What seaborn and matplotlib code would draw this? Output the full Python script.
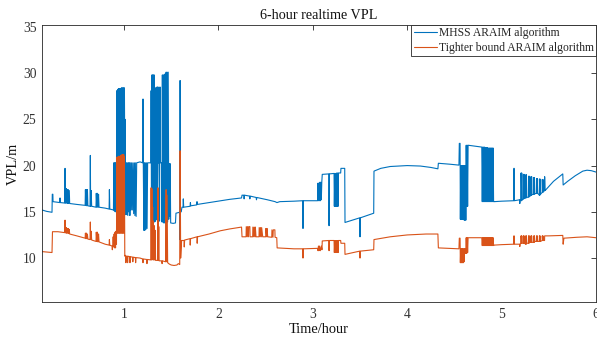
import matplotlib
matplotlib.use("Agg")
import matplotlib.pyplot as plt
import seaborn as sns
import pandas as pd

# ---------------- chart data ----------------
series_names = ["MHSS ARAIM algorithm", "Tighter bound ARAIM algorithm"]
series_colors = ["#0072BD", "#D95319"]
title_text = "6-hour realtime VPL"
x_label = "Time/hour"
y_label = "VPL/m"
x_ticks = [1, 2, 3, 4, 5, 6]
y_ticks = [10, 15, 20, 25, 30, 35]

# (time in hours, VPL in metres) samples
mhss_samples = [
    (0.131, 15.2), (0.180, 15.05), (0.237, 14.95), (0.240, 16.9), (0.246, 16.9), (0.248, 16.1),
    (0.320, 16.0), (0.322, 16.5), (0.325, 16.0),
    (0.372, 15.95), (0.375, 19.7), (0.378, 15.95), (0.382, 17.5), (0.386, 15.95), (0.390, 17.5),
    (0.394, 15.95), (0.398, 17.4), (0.403, 15.9), (0.408, 17.4), (0.412, 15.9), (0.420, 17.3), (0.424, 15.9),
    (0.500, 15.8),
    (0.588, 15.7), (0.591, 17.4), (0.596, 15.7), (0.601, 17.4), (0.606, 15.65), (0.612, 17.4), (0.617, 15.65),
    (0.640, 15.6), (0.643, 21.1), (0.646, 15.6), (0.652, 17.3), (0.657, 15.6),
    (0.703, 15.5), (0.706, 17.0), (0.712, 15.5), (0.718, 17.0), (0.724, 15.5), (0.730, 16.9), (0.735, 15.5),
    (0.800, 15.4), (0.842, 15.3), (0.845, 17.4), (0.849, 15.3), (0.888, 15.2),
    (0.892, 20.3), (0.897, 15.1), (0.902, 20.3), (0.907, 15.0), (0.912, 20.3), (0.918, 15.0),
    (0.924, 28.1), (0.928, 15.0), (0.932, 28.2), (0.936, 15.0), (0.940, 28.3), (0.944, 14.9),
    (0.948, 28.3), (0.952, 14.9), (0.956, 28.3), (0.960, 14.9), (0.964, 28.3), (0.968, 14.9),
    (0.972, 28.4), (0.976, 14.9), (0.980, 28.4), (0.984, 14.8), (0.988, 28.4), (0.992, 14.8),
    (0.996, 28.4), (1.000, 14.8), (1.004, 28.4), (1.008, 20.3),
    (1.011, 25.0), (1.014, 20.3), (1.018, 14.7), (1.022, 20.3), (1.028, 14.7), (1.033, 20.3),
    (1.040, 14.6), (1.045, 20.3), (1.050, 15.0), (1.056, 20.3), (1.062, 14.6), (1.067, 20.3),
    (1.075, 15.2), (1.080, 20.3), (1.088, 15.2), (1.094, 20.3), (1.102, 14.8), (1.108, 20.3),
    (1.115, 14.6), (1.120, 20.3), (1.128, 14.5), (1.134, 20.3),
    (1.170, 20.4), (1.198, 20.3), (1.201, 27.2), (1.204, 20.3),
    (1.210, 13.0), (1.215, 20.3), (1.220, 13.0), (1.226, 20.3), (1.232, 13.1), (1.238, 20.3),
    (1.244, 13.2), (1.250, 20.3),
    (1.284, 20.3), (1.287, 28.1), (1.291, 14.0), (1.295, 29.8), (1.299, 13.8), (1.303, 29.8),
    (1.307, 14.0), (1.311, 29.8), (1.315, 14.1), (1.320, 29.8), (1.324, 13.9), (1.330, 28.4),
    (1.334, 14.0), (1.340, 28.4), (1.344, 14.2), (1.350, 28.5), (1.354, 14.3), (1.360, 28.5),
    (1.364, 20.3), (1.372, 20.3), (1.376, 14.0), (1.381, 28.5), (1.385, 20.3),
    (1.398, 20.3), (1.402, 13.9), (1.406, 29.8), (1.410, 13.9), (1.416, 29.8), (1.420, 13.8),
    (1.426, 29.8), (1.430, 13.8), (1.434, 29.9), (1.440, 13.8), (1.446, 30.1), (1.450, 13.8),
    (1.456, 30.1), (1.462, 13.9), (1.468, 30.1), (1.474, 14.2), (1.478, 20.2),
    (1.484, 14.5), (1.489, 20.2), (1.494, 13.8),
    (1.520, 13.75), (1.545, 13.8), (1.550, 14.85), (1.588, 14.95), (1.591, 12.0), (1.594, 29.2),
    (1.598, 15.0), (1.606, 15.0),
    (1.614, 15.5), (1.625, 15.5), (1.628, 16.4), (1.632, 15.5), (1.700, 15.6), (1.703, 16.0),
    (1.707, 15.65), (1.770, 15.75), (1.773, 16.1), (1.777, 15.8), (1.900, 16.0), (2.020, 16.2),
    (2.120, 16.35), (2.245, 16.5), (2.250, 16.8), (2.270, 16.8), (2.272, 16.4), (2.276, 16.8),
    (2.330, 16.7), (2.333, 16.4), (2.337, 16.7), (2.400, 16.55), (2.403, 16.3), (2.407, 16.55),
    (2.520, 16.3), (2.600, 16.1), (2.620, 16.0), (2.650, 16.1), (2.800, 16.15), (2.893, 16.2),
    (2.896, 13.2), (2.900, 16.2), (3.050, 16.2),
    (3.055, 18.1), (3.060, 16.2), (3.065, 18.1), (3.070, 16.2), (3.075, 18.2), (3.080, 16.2),
    (3.085, 18.2), (3.090, 16.3), (3.095, 18.2), (3.100, 19.05),
    (3.170, 19.1), (3.172, 13.5), (3.175, 19.1),
    (3.225, 19.15), (3.228, 15.6), (3.233, 19.15), (3.238, 15.6), (3.243, 19.15), (3.248, 15.6),
    (3.253, 19.2), (3.258, 15.6), (3.263, 19.2), (3.268, 15.6), (3.272, 19.2),
    (3.295, 19.2), (3.298, 19.7), (3.338, 19.7), (3.341, 13.85),
    (3.497, 14.35), (3.500, 12.3), (3.503, 14.35),
    (3.645, 14.85), (3.648, 19.4), (3.720, 19.7), (3.820, 19.9), (4.000, 20.0), (4.140, 19.95),
    (4.250, 19.8), (4.325, 19.65), (4.330, 20.25), (4.450, 20.15), (4.548, 20.05),
    (4.552, 22.4), (4.560, 22.4), (4.563, 14.2), (4.567, 20.0), (4.571, 14.2), (4.575, 20.0),
    (4.579, 14.2), (4.583, 20.0), (4.587, 14.2), (4.591, 20.0), (4.595, 14.2), (4.600, 20.0),
    (4.604, 14.1), (4.608, 20.0), (4.612, 14.1), (4.618, 20.0), (4.621, 14.1), (4.625, 22.2),
    (4.630, 15.6), (4.635, 22.2), (4.640, 15.6), (4.645, 22.2),
    (4.790, 22.0), (4.795, 16.1), (4.800, 22.0), (4.805, 16.1), (4.810, 22.0), (4.815, 16.1),
    (4.820, 22.0), (4.825, 16.1), (4.830, 21.95), (4.835, 16.1), (4.840, 21.95), (4.845, 16.1),
    (4.850, 21.95), (4.855, 16.1), (4.860, 21.9), (4.865, 16.1), (4.870, 21.9), (4.875, 16.1),
    (4.880, 21.9), (4.885, 16.1), (4.890, 21.9), (4.895, 16.1), (4.900, 21.9), (4.905, 16.1),
    (4.910, 21.9), (4.915, 16.1), (4.920, 16.1),
    (5.000, 16.15), (5.128, 16.2), (5.130, 19.7), (5.133, 19.7), (5.135, 16.2), (5.190, 16.3),
    (5.193, 15.9), (5.196, 16.3),
    (5.205, 16.2), (5.206, 19.2), (5.210, 16.2), (5.213, 19.2), (5.217, 16.25),
    (5.230, 16.4), (5.231, 19.05), (5.235, 16.4), (5.238, 19.05), (5.242, 16.45),
    (5.255, 16.5), (5.256, 19.0), (5.260, 16.5), (5.263, 19.0), (5.267, 16.55),
    (5.285, 16.6), (5.286, 18.85), (5.290, 16.6), (5.293, 18.85), (5.297, 16.65),
    (5.310, 16.8), (5.311, 18.8), (5.315, 16.8), (5.318, 18.8), (5.322, 16.85),
    (5.340, 16.9), (5.341, 18.7), (5.345, 16.9), (5.348, 18.7), (5.352, 16.95),
    (5.370, 17.0), (5.371, 18.6), (5.375, 17.0), (5.378, 18.6), (5.382, 17.0),
    (5.400, 16.8), (5.401, 18.55), (5.405, 16.8), (5.408, 18.55), (5.412, 16.9),
    (5.430, 17.1), (5.431, 18.5), (5.435, 17.1), (5.438, 18.5), (5.442, 17.15),
    (5.455, 17.3), (5.456, 18.8), (5.460, 17.3),
    (5.470, 17.4), (5.550, 18.3), (5.648, 19.1), (5.652, 17.9), (5.700, 18.3), (5.780, 18.9),
    (5.860, 19.4), (5.905, 19.5), (5.950, 19.45), (6.000, 19.3),
]

tighter_samples = [
    (0.131, 10.7), (0.237, 10.6), (0.242, 12.85), (0.300, 12.85), (0.372, 12.75), (0.375, 14.1),
    (0.378, 12.75), (0.382, 13.3), (0.386, 12.7), (0.390, 13.3), (0.394, 12.7), (0.398, 13.2),
    (0.403, 12.7), (0.408, 13.2), (0.412, 12.65), (0.420, 13.1), (0.424, 12.6), (0.500, 12.4),
    (0.588, 12.15), (0.591, 12.7), (0.596, 12.1), (0.601, 12.7), (0.606, 12.1), (0.612, 12.6),
    (0.617, 12.05), (0.640, 12.0), (0.643, 13.9), (0.646, 12.0), (0.652, 12.9), (0.657, 11.95),
    (0.703, 11.8), (0.706, 12.8), (0.712, 11.8), (0.718, 12.8), (0.724, 11.75), (0.730, 12.6),
    (0.735, 11.75), (0.800, 11.5), (0.842, 11.4), (0.845, 12.0), (0.849, 11.4), (0.873, 11.3),
    (0.876, 10.9), (0.880, 11.3), (0.885, 12.3), (0.890, 11.2), (0.895, 12.6), (0.900, 11.1),
    (0.905, 12.8), (0.910, 11.1), (0.915, 12.9), (0.920, 11.5),
    (0.924, 20.9), (0.928, 12.7), (0.932, 20.9), (0.936, 12.7), (0.940, 21.0), (0.944, 12.7),
    (0.948, 21.0), (0.952, 12.7), (0.956, 21.0), (0.960, 12.7), (0.964, 21.1), (0.968, 12.7),
    (0.972, 21.1), (0.976, 12.7), (0.980, 21.2), (0.984, 12.7), (0.988, 21.2), (0.992, 12.7),
    (0.996, 21.2), (1.000, 12.7), (1.004, 21.0), (1.008, 10.2),
    (1.016, 10.3), (1.020, 9.5), (1.024, 10.2), (1.035, 10.2), (1.038, 9.5), (1.042, 10.2),
    (1.060, 10.15), (1.063, 9.5), (1.067, 10.15), (1.090, 10.1), (1.093, 9.6), (1.097, 10.1),
    (1.120, 10.05), (1.123, 9.5), (1.127, 10.05), (1.170, 10.0), (1.198, 9.9), (1.201, 9.5),
    (1.204, 9.9), (1.240, 9.85), (1.243, 9.4), (1.247, 9.85),
    (1.284, 9.8), (1.287, 17.6), (1.291, 9.8), (1.295, 17.5), (1.299, 13.8), (1.303, 15.5),
    (1.307, 9.8), (1.311, 14.0), (1.315, 9.8), (1.320, 13.5), (1.324, 9.8), (1.330, 13.0),
    (1.334, 9.75), (1.356, 9.75), (1.360, 17.6), (1.364, 9.75), (1.368, 13.4), (1.372, 9.7),
    (1.400, 9.7), (1.403, 9.4), (1.407, 9.7), (1.440, 9.6), (1.446, 17.4), (1.450, 9.6),
    (1.456, 16.8), (1.462, 9.5), (1.480, 9.35), (1.500, 9.25), (1.530, 9.2), (1.560, 9.25),
    (1.575, 9.4), (1.590, 9.3), (1.594, 21.6), (1.600, 10.0),
    (1.610, 11.9), (1.636, 11.9), (1.638, 11.2), (1.642, 11.95), (1.699, 12.1), (1.701, 11.4),
    (1.705, 12.1), (1.773, 12.3), (1.775, 11.6), (1.779, 12.3), (1.900, 12.6), (2.020, 12.95),
    (2.120, 13.15), (2.245, 13.35), (2.250, 12.3),
    (2.293, 12.3), (2.295, 13.4), (2.305, 12.3), (2.308, 13.4), (2.318, 12.3), (2.321, 13.4),
    (2.333, 13.4), (2.335, 12.3),
    (2.363, 12.3), (2.365, 13.35), (2.375, 12.3), (2.378, 13.35), (2.388, 12.3), (2.391, 13.35),
    (2.398, 12.3),
    (2.430, 12.3), (2.432, 13.3), (2.442, 12.3), (2.445, 13.3), (2.455, 12.3), (2.458, 13.3),
    (2.469, 12.3),
    (2.501, 12.3), (2.503, 13.2), (2.512, 12.3), (2.515, 13.2), (2.522, 12.3),
    (2.565, 12.25), (2.567, 13.05), (2.578, 12.25), (2.581, 13.05), (2.598, 13.05), (2.600, 12.25),
    (2.618, 12.2), (2.622, 11.1), (2.800, 11.0), (2.893, 11.0), (2.896, 10.0), (2.900, 11.0),
    (3.050, 11.05),
    (3.055, 10.8), (3.060, 11.3), (3.065, 10.8), (3.070, 11.3), (3.080, 10.8), (3.090, 11.3),
    (3.097, 10.9), (3.100, 11.85), (3.170, 11.9), (3.172, 10.8), (3.175, 11.9),
    (3.225, 11.9), (3.228, 10.6), (3.233, 11.9), (3.238, 10.6), (3.243, 11.9), (3.248, 10.6),
    (3.253, 11.9), (3.258, 10.6), (3.263, 11.9), (3.268, 10.6), (3.272, 11.9),
    (3.295, 11.9), (3.298, 11.6), (3.338, 11.6), (3.341, 10.4),
    (3.497, 10.75), (3.500, 10.0), (3.503, 10.75),
    (3.645, 10.9), (3.648, 12.0), (3.820, 12.3), (4.000, 12.5), (4.200, 12.6), (4.325, 12.6),
    (4.330, 11.1), (4.548, 11.0),
    (4.552, 12.15), (4.560, 12.15), (4.563, 9.5), (4.567, 11.0), (4.571, 9.5), (4.575, 11.0),
    (4.579, 9.5), (4.583, 11.0), (4.587, 9.5), (4.591, 11.0), (4.595, 9.5), (4.600, 11.0),
    (4.604, 9.6), (4.608, 11.0), (4.612, 10.5), (4.618, 11.0), (4.621, 10.5), (4.625, 12.2),
    (4.630, 10.5), (4.635, 12.2), (4.640, 10.6), (4.645, 12.2),
    (4.790, 12.2), (4.795, 11.35), (4.800, 12.2), (4.805, 11.35), (4.810, 12.2), (4.815, 11.35),
    (4.820, 12.2), (4.825, 11.35), (4.830, 12.2), (4.835, 11.35), (4.840, 12.2), (4.845, 11.35),
    (4.850, 12.2), (4.855, 11.35), (4.860, 12.2), (4.865, 11.35), (4.870, 12.2), (4.875, 11.35),
    (4.880, 12.2), (4.885, 11.35), (4.890, 12.2), (4.895, 11.35), (4.900, 12.2), (4.905, 11.35),
    (4.910, 12.2), (4.915, 11.35), (4.920, 11.4),
    (5.000, 11.45), (5.128, 11.5), (5.130, 12.4), (5.133, 12.4), (5.135, 11.5), (5.190, 11.5),
    (5.193, 11.25), (5.196, 11.5),
    (5.205, 11.6), (5.206, 12.4), (5.210, 11.6), (5.213, 12.4), (5.217, 11.6),
    (5.230, 11.6), (5.231, 12.4), (5.235, 11.6), (5.238, 12.4), (5.242, 11.6),
    (5.255, 11.5), (5.256, 12.4), (5.260, 11.5), (5.263, 12.4), (5.267, 11.6),
    (5.285, 11.6), (5.286, 12.4), (5.290, 11.6), (5.293, 12.4), (5.297, 11.7),
    (5.310, 11.7), (5.311, 12.4), (5.315, 11.7), (5.318, 12.4), (5.322, 11.7),
    (5.340, 11.7), (5.341, 12.4), (5.345, 11.7), (5.348, 12.4), (5.352, 11.8),
    (5.370, 11.8), (5.371, 12.4), (5.375, 11.8), (5.378, 12.4), (5.382, 11.8),
    (5.400, 11.8), (5.401, 12.4), (5.405, 11.8), (5.408, 12.4), (5.412, 11.8),
    (5.430, 11.9), (5.431, 12.4), (5.435, 11.9), (5.438, 12.4), (5.442, 11.9),
    (5.455, 11.9), (5.456, 12.4),
    (5.500, 12.4), (5.648, 12.45), (5.652, 11.5), (5.660, 12.15), (5.800, 12.25), (5.905, 12.3),
    (6.000, 12.2),
]

# ---------------- build table ----------------
rows = []
for name, samples in zip(series_names, [mhss_samples, tighter_samples]):
    for i, (t, v) in enumerate(samples):
        rows.append({"series": name, "order": i, "t": t, "v": v})
df = pd.DataFrame(rows)

sns.set_theme(style="white")
plt.rcParams["font.family"] = ["Liberation Serif", "DejaVu Serif"]

W, H = 597, 341
fig = plt.figure(figsize=(W / 100, H / 100), dpi=100)
ax = fig.add_axes([42 / W, 1 - 302 / H, (596 - 42) / W, (302 - 25) / H])

sns.lineplot(data=df, x="t", y="v", hue="series", hue_order=series_names,
             palette=series_colors, estimator=None, sort=False,
             linewidth=0.8, ax=ax)

ax.set_xlim(0.131, 6.0)
ax.set_ylim(5.25, 35.2)
ax.set_xticks(x_ticks)
ax.set_xticklabels([str(x) for x in x_ticks])
ax.set_yticks(y_ticks)
ax.set_yticklabels([str(y) for y in y_ticks])

edge = "#262626"
for s in ax.spines.values():
    s.set_visible(True)
    s.set_color(edge)
    s.set_linewidth(0.6)
ax.tick_params(direction="in", length=3.5, width=0.6, colors=edge,
               top=True, right=True, labelsize=9.8, pad=4)
for lab in ax.get_xticklabels() + ax.get_yticklabels():
    lab.set_color("#333333")

ax.set_title(title_text, fontsize=10.2, color="#111111", pad=4)
ax.set_xlabel(x_label, fontsize=10.4, color="#111111", labelpad=2)
ax.set_ylabel(y_label, fontsize=10.4, color="#111111", labelpad=2)

handles, labels = ax.get_legend_handles_labels()
leg = ax.legend(handles, labels, loc="upper right", fontsize=8.4, frameon=True,
                fancybox=False, framealpha=1, edgecolor=edge, borderaxespad=0,
                borderpad=0.2, labelspacing=0.2, handlelength=2.0,
                handletextpad=0.15)
leg.get_frame().set_linewidth(0.6)

fig.savefig("out.png", dpi=100)
